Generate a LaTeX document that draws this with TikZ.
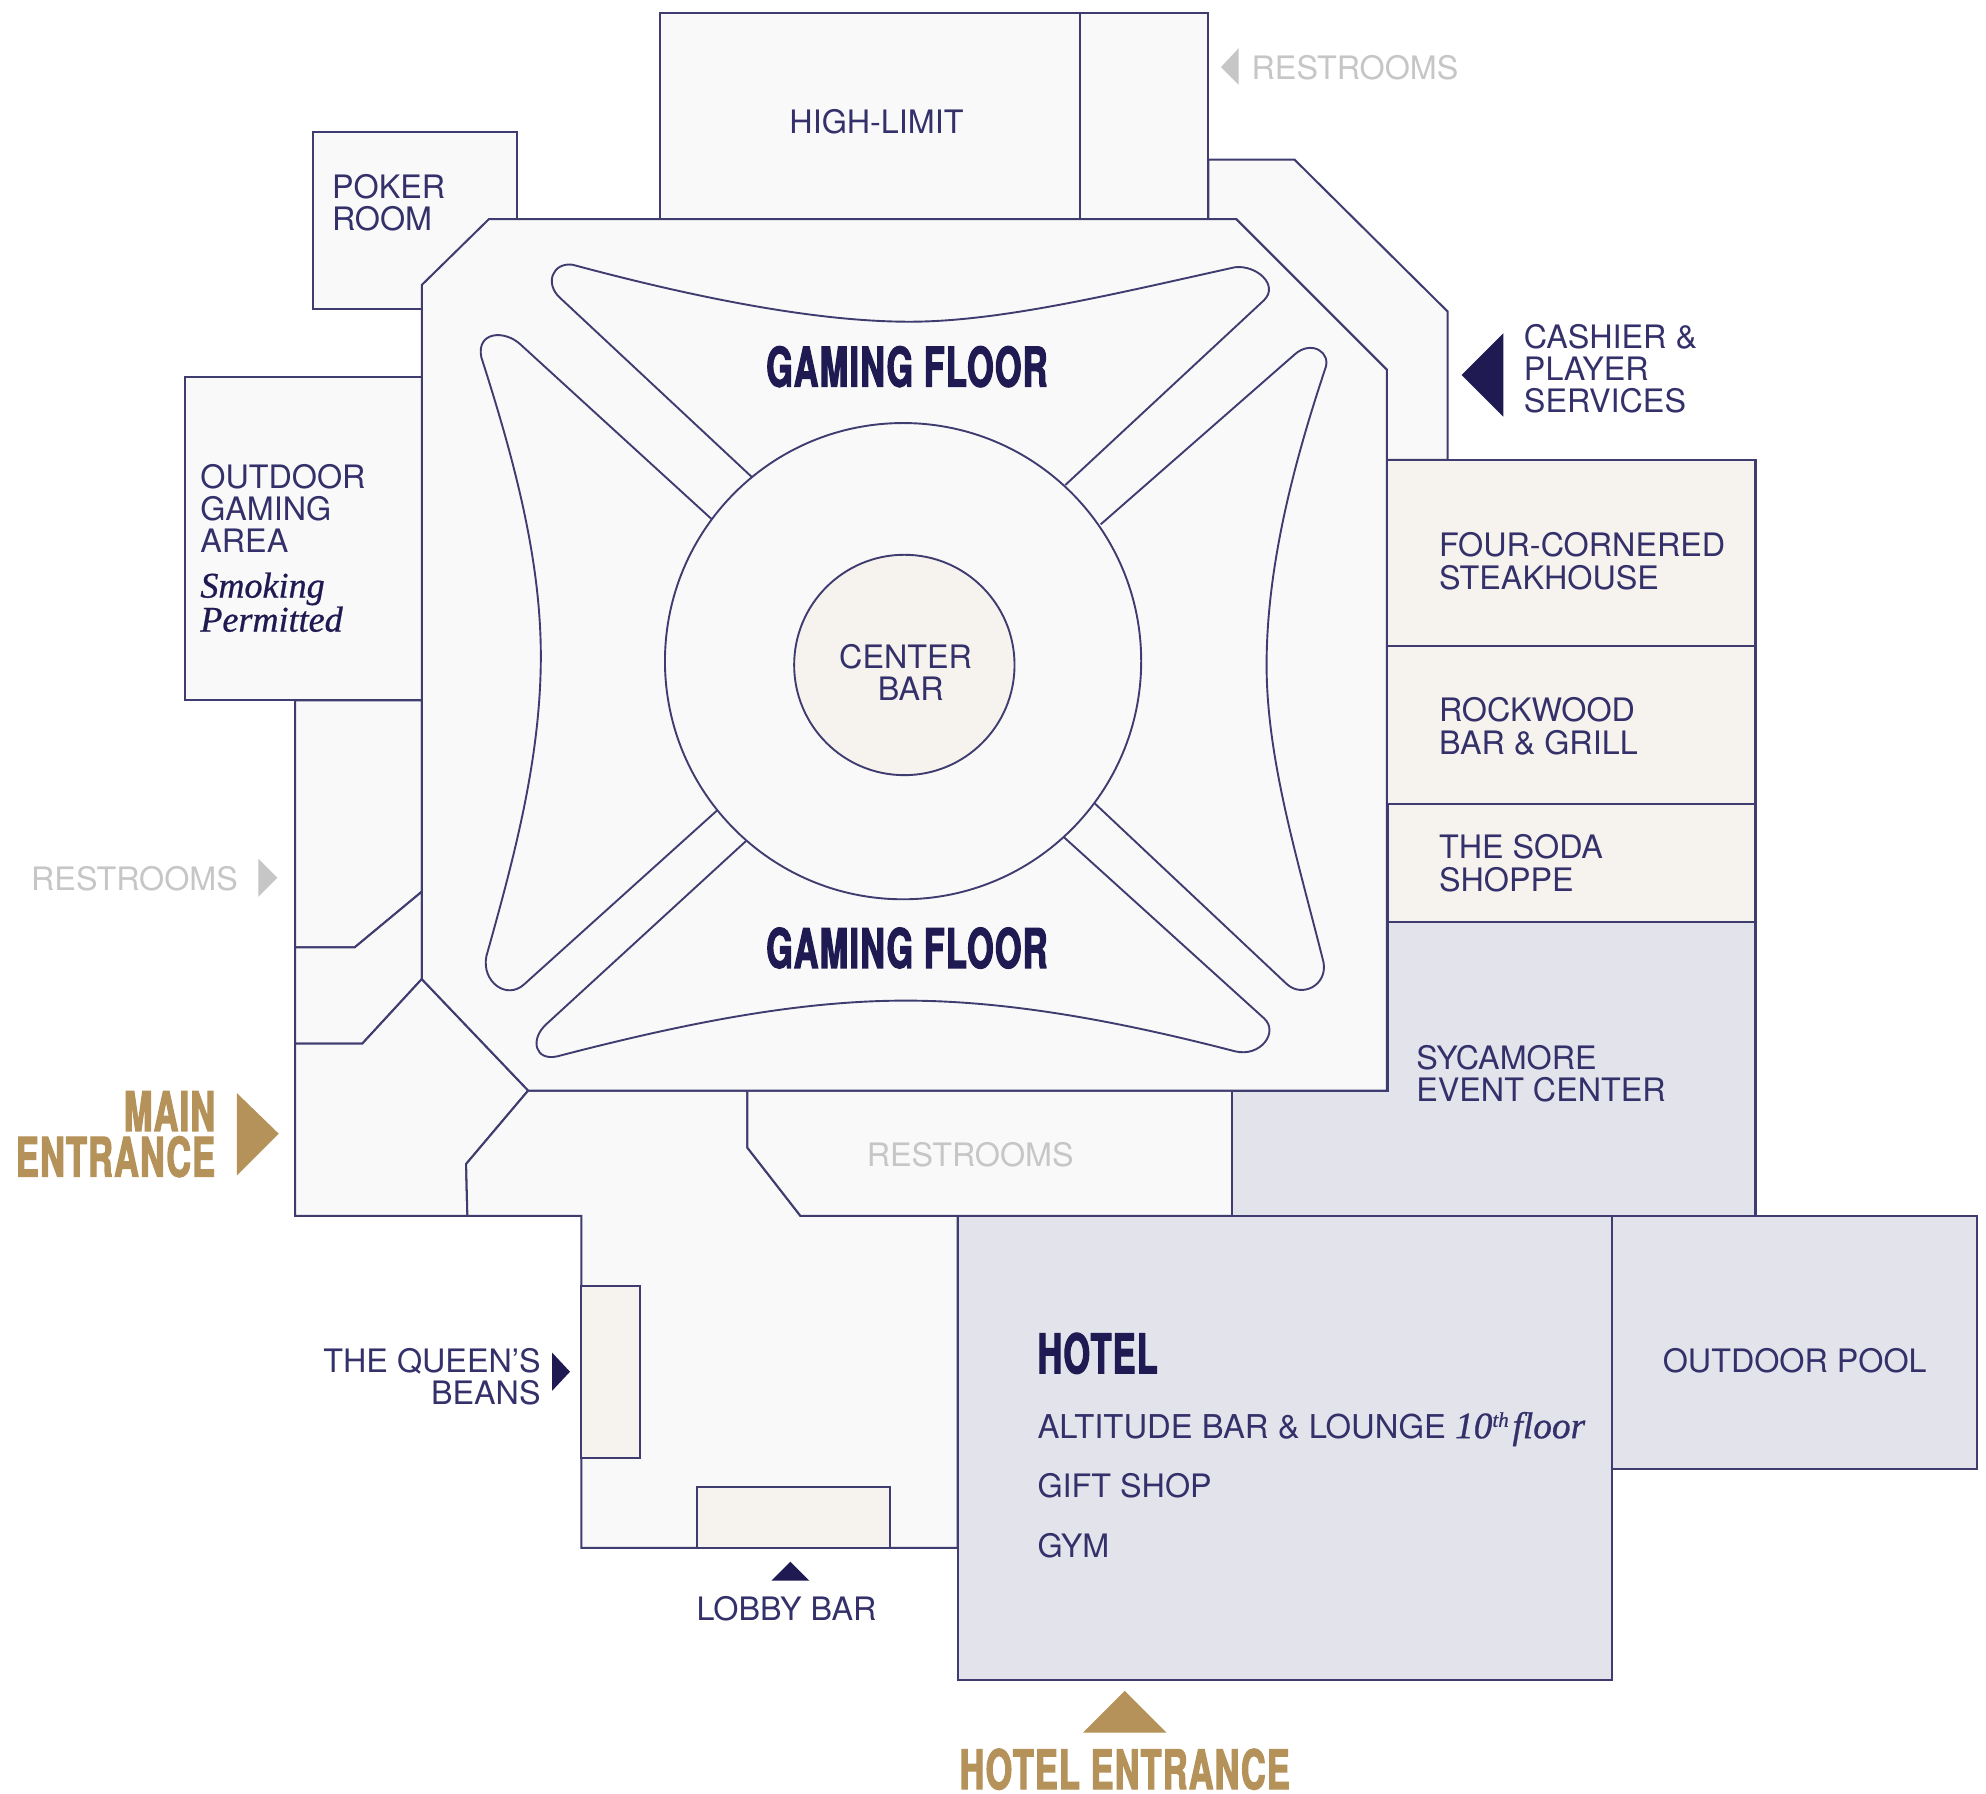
\documentclass[tikz,border=0pt]{standalone}
\usepackage{fontspec}
\newfontfamily\sansf{TeX Gyre Heros}
\newfontfamily\heavyf{TeX Gyre Heros}[BoldFeatures={FakeStretch=0.625,FakeBold=2.2,LetterSpace=2.5}]
\newfontfamily\didof{Liberation Serif}[ItalicFeatures={FakeBold=0.7}]
\definecolor{wall}{HTML}{3F3C70}
\definecolor{floorc}{HTML}{F9F9F9}
\definecolor{warm}{HTML}{F6F2EE}
\definecolor{event}{HTML}{E3E3EB}
\definecolor{gold}{HTML}{B59259}
\definecolor{navy}{HTML}{1F1A52}
\definecolor{labelc}{HTML}{33306A}
\definecolor{mute}{HTML}{C6C6C6}
\tikzset{
  room/.style={draw=wall,line width=1.6pt,fill=floorc,line join=miter},
  warmroom/.style={room,fill=warm},
  eventroom/.style={room,fill=event},
  petal/.style={draw=wall,line width=1.5pt},
  lbl/.style={inner sep=0pt,text=labelc,font=\sansf\fontsize{25.5}{25.5}\selectfont,align=left,anchor=west},
  lblr/.style={lbl,align=right,anchor=east},
  lblc/.style={lbl,align=center,anchor=center},
  grey/.style={text=mute},
  heavy/.style={inner sep=0pt,text=navy,font=\heavyf\bfseries\fontsize{43}{36}\selectfont},
  ital/.style={inner sep=0pt,text=navy,font=\didof\itshape\fontsize{28.5}{25}\selectfont,align=left,anchor=west}
}
\begin{document}
\begin{tikzpicture}[x=1pt,y=-1pt]
\useasboundingbox[fill=white] (0,0) rectangle (1568,1416.4);
% outer rooms
\draw[room] (521,10) rectangle (853,173);
\draw[room] (853,10) rectangle (954,173);
\draw[room] (247,104) rectangle (408,244);
\draw[room] (146,298) rectangle (333,553);
\draw[room] (954,126) -- (1022,126) -- (1143,246) -- (1143,363) -- (1095,363) -- (1095,292) -- (976,173) -- (954,173) -- cycle;
\draw[room] (233,553) -- (333,553) -- (333,704) -- (280,748) -- (233,748) -- cycle;
\draw[room] (233,748) -- (280,748) -- (333,704) -- (333,773) -- (286,824) -- (233,824) -- cycle;
\draw[room] (233,824) -- (286,824) -- (333,773) -- (417,861) -- (368,919) -- (369,960) -- (233,960) -- cycle;
\draw[room] (417,861) -- (590,861) -- (590,906) -- (632,960) -- (756,960) -- (756,1222) -- (459,1222) -- (459,960) -- (369,960) -- (368,919) -- cycle;
\draw[room] (590,861) -- (973,861) -- (973,960) -- (632,960) -- (590,906) -- cycle;
% gaming floor
\draw[room] (386,173) -- (976,173) -- (1095,292) -- (1095,861) -- (417,861) -- (333,773) -- (333,225) -- cycle;
% right side
\draw[warmroom] (1095,363) rectangle (1386,510);
\draw[warmroom] (1095,510) rectangle (1386,635);
\draw[warmroom] (1096,635) rectangle (1386,728);
\draw[eventroom] (1096,728) -- (1386,728) -- (1386,960) -- (973,960) -- (973,861) -- (1096,861) -- cycle;
\draw[eventroom] (756,960) rectangle (1273,1326);
\draw[eventroom] (1273,960) rectangle (1561,1160);
\draw[warmroom] (459,1015) rectangle (505,1151);
\draw[warmroom] (550,1174) rectangle (703,1222);
% petals
\draw[petal] (594,377) -- (442,235) .. controls (430,224) and (436,207) .. (452,209) .. controls (560,238) and (650,254) .. (718,254) .. controls (790,254) and (880,232) .. (975,211) .. controls (992,209) and (1010,225) .. (998,237) -- (841,383);
\draw[petal] (562,410) -- (411,272) .. controls (398,260) and (376,262) .. (380,282) .. controls (405,360) and (427,440) .. (427,518) .. controls (427,600) and (405,680) .. (384,755) .. controls (380,775) and (400,790) .. (414,777) -- (566,640);
\draw[petal] (589,664) -- (432,808) .. controls (418,820) and (422,838) .. (440,834) .. controls (540,808) and (630,790) .. (715,790) .. controls (800,790) and (890,808) .. (975,830) .. controls (995,835) and (1010,815) .. (998,804) -- (840,661);
\draw[petal] (869,414) -- (1022,280) .. controls (1035,268) and (1052,278) .. (1046,292) .. controls (1020,370) and (1000,450) .. (1000,525) .. controls (1000,600) and (1025,680) .. (1045,760) .. controls (1048,778) and (1028,788) .. (1016,777) -- (864,634);
\draw[petal] (713,522) circle[radius=188];
\draw[petal,fill=warm] (714,525) circle[radius=87];
% triangles
\fill[mute] (964,53) -- (978,38) -- (978,67) -- cycle;
\fill[navy] (1154,296) -- (1187,263) -- (1187,329) -- cycle;
\fill[mute] (204,678) -- (219,693) -- (204,708) -- cycle;
\fill[gold] (187,863) -- (220,895) -- (187,928) -- cycle;
\fill[navy] (436,1068) -- (450,1083) -- (436,1098) -- cycle;
\fill[navy] (624,1233) -- (639,1248) -- (609,1248) -- cycle;
\fill[gold] (888,1335) -- (921,1368) -- (855,1368) -- cycle;
% labels
\node[lblc] (highlimit) at (692,96) {HIGH-LIMIT};
\node[lbl,grey] (restN) at (988,53.5) {RESTROOMS};
\node[lbl] (poker) at (262,160) {POKER\\ROOM};
\node[lbl] (outdoor) at (158,401.5) {OUTDOOR\\GAMING\\AREA};
\node[ital] (smoking) at (158,475.5) {Smoking\\Permitted};
\node[lbl] (cashier) at (1203,291) {CASHIER \&\\PLAYER\\SERVICES};
\node[lbl] (steak) at (1136,443) {FOUR-CORNERED\\STEAKHOUSE};
\node[lbl] (rock) at (1136,573.5) {ROCKWOOD\\BAR \& GRILL};
\node[lbl] (soda) at (1136,681.5) {THE SODA\\SHOPPE};
\node[lbl] (syc) at (1118,847.5) {SYCAMORE\\EVENT CENTER};
\node[lblc] (center) at (715,531) {CENTER\\\hspace*{8pt}BAR};
\node[heavy] (gfN) at (716,289.5) {GAMING FLOOR};
\node[heavy] (gfS) at (716,748.5) {GAMING FLOOR};
\node[lblr,grey] (restW) at (188,694) {RESTROOMS};
\node[lblc,grey] (restS) at (766,912) {RESTROOMS};
\node[heavy,text=gold,align=right,anchor=east] (main) at (170,895.5) {MAIN\\ENTRANCE};
\node[lblr] (queen) at (427,1087) {THE QUEEN’S\\BEANS};
\node[lblc] (lobby) at (621,1270) {LOBBY BAR};
\node[heavy,anchor=west] (hotel) at (819,1068.5) {HOTEL};
\node[lbl,anchor=base west,font=\sansf\fontsize{25.9}{25.5}\selectfont] (altitude) at (819,1135.5) {ALTITUDE BAR \& LOUNGE {\didof\itshape\fontsize{29.5}{25}\selectfont 10\raisebox{9pt}{\fontsize{16.5}{16}\selectfont th}\hspace{3pt}floor}};
\node[lbl] (gift) at (819,1173) {GIFT SHOP};
\node[lbl] (gym) at (819,1220) {GYM};
\node[lblc] (pool) at (1417,1074) {OUTDOOR POOL};
\node[heavy,text=gold,text height=31pt,text depth=0pt] (hotelent) at (888,1397) {HOTEL ENTRANCE};
\end{tikzpicture}
\end{document}
